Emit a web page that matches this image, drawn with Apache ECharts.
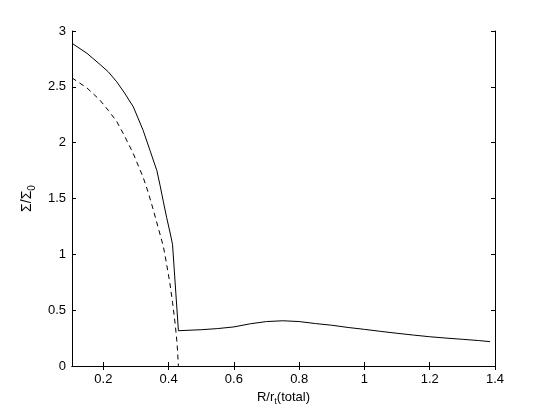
<!DOCTYPE html>
<html>
<head>
<meta charset="utf-8">
<script src="https://cdn.jsdelivr.net/npm/echarts@6/dist/echarts.min.js"></script>
<style>
  html, body { margin: 0; padding: 0; background: #fff; }
  #chart { width: 548px; height: 412px; }
</style>
</head>
<body>
<div id="chart"></div>
<script>
// total profile (solid)
var totalR = [0.104, 0.15, 0.19, 0.215, 0.241, 0.265, 0.292, 0.322, 0.343, 0.364, 0.374, 0.384, 0.394, 0.404, 0.412, 0.43,
  0.5, 0.55, 0.6, 0.65, 0.7, 0.75, 0.8, 0.85, 0.9, 0.95, 1.0, 1.05, 1.1, 1.15, 1.2, 1.25, 1.3, 1.35, 1.385];
var totalSigma = [2.89, 2.80, 2.70, 2.635, 2.545, 2.445, 2.32, 2.11, 1.93, 1.75, 1.615, 1.47, 1.33, 1.20, 1.09, 0.316,
  0.325, 0.335, 0.35, 0.378, 0.398, 0.405, 0.398, 0.38, 0.365, 0.345, 0.328, 0.31, 0.293, 0.277, 0.262, 0.25, 0.239, 0.228, 0.218];
// inner component (dashed)
var innerR = [0.104, 0.15, 0.19, 0.215, 0.241, 0.265, 0.292, 0.322, 0.338, 0.353, 0.368, 0.384, 0.394, 0.404, 0.412, 0.42, 0.426, 0.43];
var innerSigma = [2.58, 2.49, 2.38, 2.29, 2.19, 2.06, 1.90, 1.69, 1.55, 1.40, 1.24, 1.07, 0.91, 0.74, 0.57, 0.38, 0.2, 0];

var xTicks = [0.2, 0.4, 0.6, 0.8, 1, 1.2, 1.4];

function pairs(xs, ys) {
  var out = [];
  for (var i = 0; i < xs.length; i++) out.push([xs[i], ys[i]]);
  return out;
}

var chart = echarts.init(document.getElementById('chart'));
var font = 'Liberation Sans, Arial, Helvetica, sans-serif';
var tick = { show: true, inside: true, length: 4, lineStyle: { color: '#000', width: 1 } };
var line = { show: true, lineStyle: { color: '#000', width: 1 } };

var option = {
  animation: false,
  textStyle: { fontFamily: font, color: '#000' },
  grid: { left: 72, right: 53, top: 31, bottom: 46 },
  xAxis: [{
    type: 'value', min: 0.104, max: 1.4, position: 'bottom',
    axisLine: line,
    axisTick: Object.assign({ customValues: xTicks }, tick),
    axisLabel: { customValues: xTicks, fontSize: 13, color: '#000', margin: 7 },
    splitLine: { show: false },
    name: 'R/r{sub|t}(total)',
    nameLocation: 'middle', nameGap: 22,
    nameTextStyle: { fontSize: 13, color: '#000',
      rich: { sub: { fontSize: 9, padding: [9, 0, 0, 0] } } }
  }, {
    type: 'value', min: 0.104, max: 1.4, position: 'top',
    axisLine: line,
    axisTick: Object.assign({ customValues: xTicks }, tick),
    axisLabel: { show: false },
    splitLine: { show: false }
  }],
  yAxis: [{
    type: 'value', min: 0, max: 3, interval: 0.5, position: 'left',
    axisLine: line, axisTick: tick,
    axisLabel: { fontSize: 13, color: '#000', margin: 6 },
    splitLine: { show: false },
    name: 'Σ/Σ{sub|0}',
    nameLocation: 'middle', nameGap: 30, nameRotate: 90,
    nameTextStyle: { fontSize: 14, color: '#000',
      rich: { sub: { fontSize: 10, padding: [9, 0, 0, 0] } } }
  }, {
    type: 'value', min: 0, max: 3, interval: 0.5, position: 'right',
    axisLine: line, axisTick: tick,
    axisLabel: { show: false },
    splitLine: { show: false }
  }],
  series: [{
    type: 'line', data: pairs(totalR, totalSigma),
    showSymbol: false, smooth: false,
    lineStyle: { color: '#000', width: 1 }
  }, {
    type: 'line', data: pairs(innerR, innerSigma),
    showSymbol: false, smooth: false,
    lineStyle: { color: '#000', width: 1, type: [5, 4] }
  }]
};
chart.setOption(option);
</script>
</body>
</html>
